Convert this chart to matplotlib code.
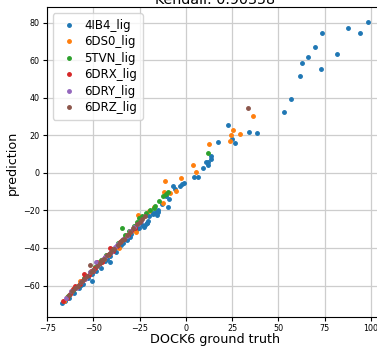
import matplotlib
matplotlib.use('Agg')
import matplotlib.pyplot as plt

# DOCK6 ground truth (x) vs prediction (y), one pair of lists per ligand
ligands = ['4IB4_lig', '6DS0_lig', '5TVN_lig', '6DRX_lig', '6DRY_lig', '6DRZ_lig']

x_4ib4 = [98.4, 87.7, 94.0, 73.5, 69.7, 81.6, 65.9, 62.7, 73.1, 61.6, 56.8, 53.0,
          23.0, 34.4, 38.4, 24.7, 26.6, 17.5, 13.8, 13.5, 12.2, 10.8, 11.9, 9.2,
          4.5, 6.5, -1.1, -2.2, -3.2, -5.8, -7.0, -9.4, -10.8, -9.7, -15.0, -16.2,
          -15.3, -18.0, -20.4, -22.2, -22.9, -20.8, -31.6, -40.9, -50.8, -67.0,
          -65.6, -63.0, -60.5, -58.0, -55.5, -53.0, -48.5, -46.0, -44.0, -42.5,
          -38.0, -36.0, -34.0, -32.0, -29.5, -27.5, -25.5, -24.0, -21.1, -15.7,
          -20.2, -18.0, -13.0, -57.0, -51.0, -41.0, -35.0, -30.5, -26.5]
y_4ib4 = [80.5, 77.0, 74.3, 74.6, 66.7, 63.1, 61.5, 58.7, 55.5, 51.6, 39.4, 32.4,
          25.4, 21.6, 21.1, 18.1, 16.0, 16.3, 9.2, 7.4, 5.5, 6.0, 4.3, 2.8,
          -2.3, -2.3, -5.3, -5.9, -6.8, -8.7, -6.9, -14.2, -12.2, -18.2, -20.0, -20.7,
          -20.6, -22.0, -25.9, -27.7, -28.6, -26.8, -35.1, -47.7, -57.4, -69.3,
          -68.4, -66.5, -64.0, -61.5, -59.0, -56.0, -52.0, -50.5, -47.0, -46.0,
          -42.0, -39.5, -37.5, -36.0, -32.5, -30.5, -29.5, -28.0, -26.8, -22.3,
          -23.2, -21.5, -16.5, -59.5, -54.0, -44.5, -38.5, -34.0, -30.0]

x_6ds0 = [36.2, 25.6, 29.0, 24.5, 23.8, 12.6, 3.6, 5.4, -2.4, -5.4, -11.2, -11.6,
          -8.6, -12.3, -25.9, -27.0, -36.1, -57.1, -66.1,
          -64.5, -62.0, -59.5, -54.0, -52.0, -49.5, -47.0, -44.5, -42.0, -40.0,
          -38.0, -33.0, -30.5, -23.0, -20.0, -17.0, -60.5, -45.5, -35.0]
y_6ds0 = [30.2, 22.7, 20.7, 19.9, 17.0, 15.3, 3.9, 0.2, -3.0, -9.9, -4.3, -10.1,
          -11.0, -15.8, -22.5, -31.4, -40.1, -57.4, -68.1,
          -66.0, -63.5, -61.0, -55.0, -53.5, -51.0, -48.0, -46.0, -43.5, -41.0,
          -39.5, -34.0, -31.5, -23.5, -20.5, -18.0, -61.5, -46.5, -36.5]

x_5tvn = [11.9, -9.7, -10.6, -12.6, -14.3, -16.6, -17.5, -25.4, -34.4, -19.5,
          -21.5, -23.5, -28.0, -31.0, -37.0, -40.0, -43.0, -46.0, -49.0, -52.0,
          -55.0, -58.0, -61.0, -64.0, -26.5, -33.0]
y_5tvn = [10.5, -10.1, -11.3, -12.6, -15.1, -17.6, -18.8, -24.1, -29.5, -20.0,
          -21.5, -23.0, -28.5, -31.0, -37.5, -40.5, -43.5, -46.5, -50.0, -53.0,
          -56.0, -59.5, -62.5, -65.5, -26.0, -33.0]

x_6drx = [-66.5, -64.5, -62.5, -61.0, -59.0, -57.5, -56.0, -54.5, -52.5, -50.5,
          -49.0, -47.0, -45.5, -43.5, -41.5, -39.5, -37.5, -35.5, -33.5, -31.5,
          -29.5, -27.5, -55.0, -48.0, -41.0, -60.0, -51.5]
y_6drx = [-68.0, -66.5, -64.5, -62.0, -61.0, -59.0, -57.5, -55.5, -54.5, -52.0,
          -50.5, -48.5, -47.5, -45.0, -43.0, -41.5, -39.0, -37.0, -35.0, -33.0,
          -31.0, -29.5, -54.0, -47.5, -40.0, -60.0, -52.0]

x_6dry = [-65.0, -62.0, -59.5, -57.0, -54.5, -52.0, -50.0, -47.5, -45.0, -43.0,
          -40.5, -38.5, -36.5, -34.0, -32.0, -30.0, -28.0, -26.0, -24.5, -48.5,
          -44.0, -37.5]
y_6dry = [-66.5, -63.0, -61.5, -58.0, -56.5, -53.0, -51.5, -49.0, -46.0, -44.5,
          -42.0, -39.5, -38.0, -35.0, -33.5, -31.0, -29.0, -27.0, -25.5, -47.5,
          -45.0, -38.5]

x_6drz = [33.5, -51.7, -63.5, -61.5, -60.0, -58.5, -56.5, -55.0, -53.5, -51.5,
          -50.0, -48.0, -46.5, -44.5, -42.5, -41.0, -39.0, -37.0, -35.5, -33.5,
          -32.0, -30.0, -28.5, -26.5, -25.0, -23.5, -22.0, -45.5, -40.0, -34.5]
y_6drz = [34.6, -49.3, -65.0, -63.0, -61.5, -60.0, -58.0, -56.5, -55.0, -53.0,
          -51.5, -49.5, -48.0, -46.0, -44.0, -42.5, -40.5, -38.5, -37.0, -35.0,
          -33.0, -31.5, -29.5, -27.5, -26.0, -24.5, -23.0, -46.5, -41.0, -35.5]

xs = [x_4ib4, x_6ds0, x_5tvn, x_6drx, x_6dry, x_6drz]
ys = [y_4ib4, y_6ds0, y_5tvn, y_6drx, y_6dry, y_6drz]

fig = plt.figure(figsize=(3.77, 3.46), dpi=100)
ax = fig.add_axes([0.1239, 0.0824, 0.8929, 0.8960])

for name, x, y in zip(ligands, xs, ys):
    ax.plot(x, y, '.', markersize=5, label=name)

ax.set_xlim(-75.3, 106.8)
ax.set_ylim(-77, 88)
ax.set_xticks([-75, -50, -25, 0, 25, 50, 75, 100])
ax.set_yticks([-60, -40, -20, 0, 20, 40, 60, 80])
ax.tick_params(labelsize=5.8, length=3, pad=2)
ax.grid(True, color='#cdcdcd', linewidth=0.9)
ax.set_axisbelow(True)

ax.set_xlabel('DOCK6 ground truth', fontsize=9.2, labelpad=0)
ax.set_ylabel('prediction', fontsize=9.2, labelpad=3)
ax.set_title('Kendall: 0.90358', fontsize=10.3, pad=2.5)

ax.legend(loc='upper left', fontsize=8.5, labelspacing=0.3,
          handlelength=1.8, handletextpad=0.45, borderpad=0.45)

fig.savefig('out.png', dpi=100)
